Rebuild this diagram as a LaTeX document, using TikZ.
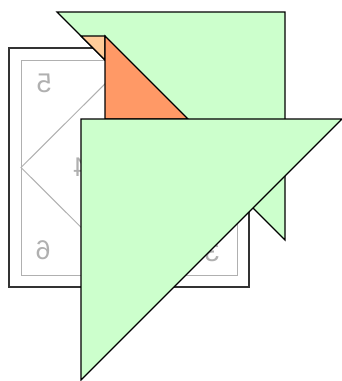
\documentclass[tikz,border=0pt]{standalone}
\usepackage{graphicx}
\usepackage{fontspec}
\setmainfont{Liberation Sans}
\definecolor{paleGreen}{HTML}{CCFFCC}
\definecolor{orangeA}{HTML}{FF9966}
\definecolor{peachA}{HTML}{FFCC99}
\definecolor{grayLine}{HTML}{B0B0B0}
\definecolor{darkLine}{HTML}{333333}
\tikzset{
  piece/.style={draw=black, line width=1.1pt, line join=miter},
  outerbox/.style={draw=darkLine, line width=1.3pt},
  crease/.style={draw=grayLine, line width=1pt},
  num/.style={text=grayLine, font=\fontsize{27}{27}\selectfont, inner sep=0pt}
}
\begin{document}
\begin{tikzpicture}[x=1pt,y=-1pt]
\useasboundingbox (0,0) rectangle (342,381);
% paper
\draw[outerbox, fill=white] (9,48) rectangle (249,287);
\draw[crease] (21,60) rectangle (237,275);
\draw[crease] (129,60) -- (237,167.5) -- (129,275) -- (21,167.5) -- cycle;
\node[num] (n5) at (44,83.5) {\reflectbox{5}};
\node[num] (n4) at (80.5,167) {\reflectbox{4}};
\node[num] (n6) at (43,250.5) {\reflectbox{6}};
\node[num] (n3) at (212,252) {\reflectbox{3}};
% folded flaps
\draw[piece, fill=paleGreen] (57,12) -- (285,12) -- (285,240) -- cycle;
\draw[piece, fill=peachA] (81,36) -- (105,36) -- (105,60) -- cycle;
\draw[piece, fill=orangeA] (105,36) -- (188,119) -- (105,119) -- cycle;
\draw[piece, fill=paleGreen] (81,119) -- (342,119) -- (81,380) -- cycle;
\end{tikzpicture}
\end{document}
